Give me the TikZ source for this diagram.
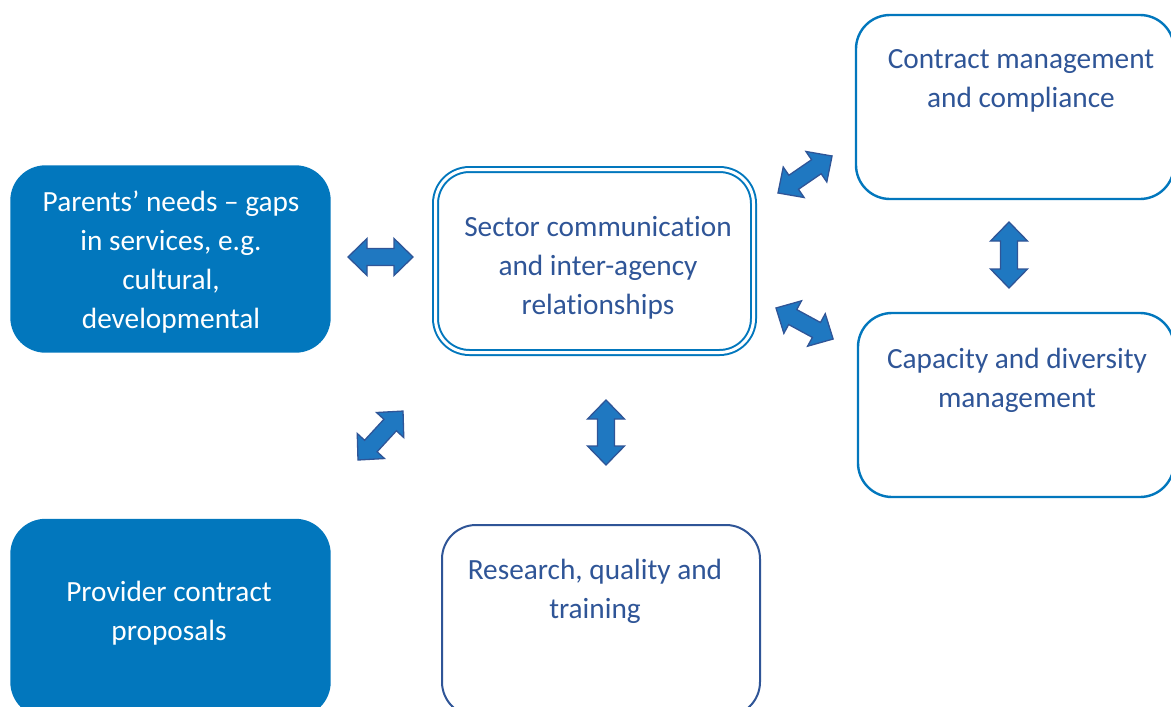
\documentclass[tikz,border=0pt]{standalone}
\usepackage{fontspec}
\setmainfont{Carlito}[Ligatures=NoCommon]
\usetikzlibrary{calc}

\definecolor{boxblue}{HTML}{0277BD}
\definecolor{textblue}{HTML}{2F5597}
\definecolor{arrowfill}{HTML}{1F78C1}
\definecolor{arrowedge}{HTML}{2F5597}

\tikzset{
  basebox/.style={rounded corners=34pt, line width=2.4pt, inner sep=0pt, text=white},
  filledbox/.style={basebox, fill=boxblue, draw=boxblue},
  openbox/.style={basebox, draw=boxblue, fill=white},
  darkbox/.style={basebox, draw=textblue, fill=white, line width=2pt},
  doublebox/.style={basebox, draw=boxblue, line width=2pt, double=white, double distance=3pt},
  boxtext/.style={align=center, font=\fontsize{29.3}{39}\selectfont, text=textblue, inner sep=0pt},
  whitetext/.style={boxtext, text=white},
  blockarrow/.style={fill=arrowfill, draw=arrowedge, line width=1.3pt, line join=miter},
}

% two-headed block arrow: #1 = tail tip, #2 = direction angle, #3 = tip-to-tip length
\newcommand\twoheaded[3]{%
  \begin{scope}[shift={#1}, rotate=#2]
    \draw[blockarrow] (0,0) -- (19,18.5) -- (19,8.5) -- (#3-19,8.5) -- (#3-19,18.5)
      -- (#3,0) -- (#3-19,-18.5) -- (#3-19,-8.5) -- (19,-8.5) -- (19,-18.5) -- cycle;
  \end{scope}}

\begin{document}
\begin{tikzpicture}[x=1pt, y=1pt]
  \useasboundingbox (0,0) rectangle (1171,-707);
  \begin{scope}
    \clip (0,0) rectangle (1171,-707);

    % boxes
    \node[filledbox, minimum width=318pt, minimum height=185pt] (needs) at (170.5,-259) {};
    \node[whitetext] (needstext) at (171,-262)
      {Parents’ needs – gaps\\in services, e.g.\\cultural,\\developmental};

    \node[doublebox, minimum width=318pt, minimum height=183pt] (sector) at (594.5,-261) {};
    \node[boxtext] (sectortext) at (598,-267.5)
      {Sector communication\\and inter-agency\\relationships};

    \node[openbox, minimum width=318pt, minimum height=184pt] (contract) at (1015,-107) {};
    \node[boxtext] (contracttext) at (1021,-81)
      {Contract management\\and compliance};

    \node[openbox, minimum width=316pt, minimum height=184pt] (capacity) at (1016,-405) {};
    \node[boxtext] (capacitytext) at (1017,-380)
      {Capacity and diversity\\management};

    \node[darkbox, minimum width=318pt, minimum height=191pt] (research) at (601,-620.5) {};
    \node[boxtext] (researchtext) at (595,-591)
      {Research, quality and\\training};

    \node[filledbox, minimum width=318pt, minimum height=196pt] (provider) at (170.5,-618) {};
    \node[whitetext] (providertext) at (169,-613)
      {Provider contract\\proposals};
  \end{scope}

  % two-headed arrows between the boxes
  \twoheaded{(348,-257)}{0}{65}
  \twoheaded{(778,-193)}{34.4}{65.5}
  \twoheaded{(1009,-288)}{90}{66}
  \twoheaded{(776,-308)}{-28.5}{65}
  \twoheaded{(358,-460)}{47.4}{66.5}
  \twoheaded{(606,-465)}{90}{65}
\end{tikzpicture}
\end{document}
